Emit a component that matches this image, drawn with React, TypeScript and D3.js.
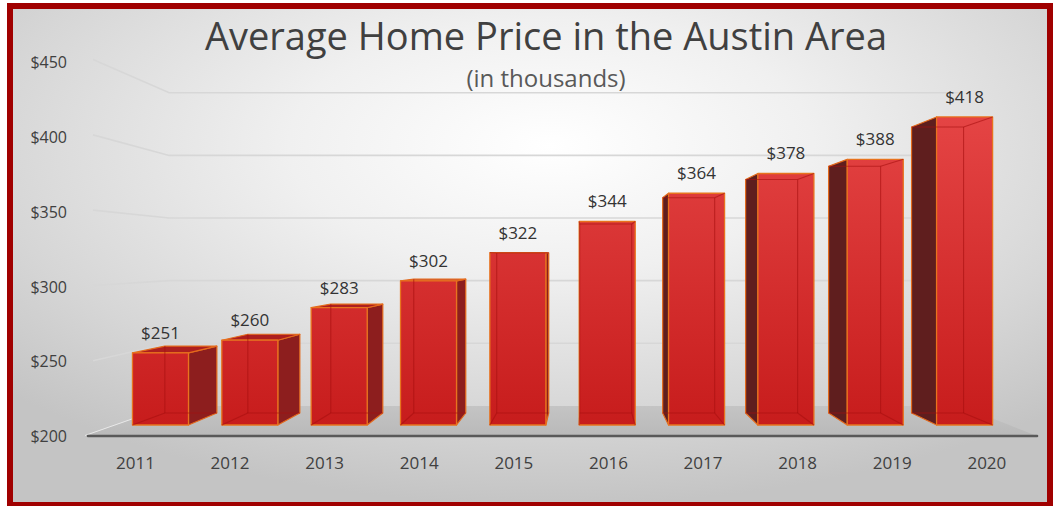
import React from 'react';
import * as d3 from 'd3';

const years = ['2011', '2012', '2013', '2014', '2015', '2016', '2017', '2018', '2019', '2020'];
const prices = [251, 260, 283, 302, 322, 344, 364, 378, 388, 418];
const yTicks = [200, 250, 300, 350, 400, 450];
const title = 'Average Home Price in the Austin Area';
const subtitle = '(in thousands)';

const W = 1053;
const H = 506;
const VX = 586;
const VY = 257;
const K_BAR_FRONT = 0.9385;
const K_BAR_BACK = 0.8715;
const K_WALL = 0.832;
const FONT = '"Open Sans", "Noto Sans", sans-serif';

type Pt = [number, number];
const proj = (x0: number, y0: number, k: number): Pt => [VX + (x0 - VX) * k, VY + (y0 - VY) * k];
const pts = (a: Pt[]) => a.map((p) => p[0].toFixed(2) + ',' + p[1].toFixed(2)).join(' ');

export default function App() {
  const x = d3.scaleBand<string>().domain(years).range([85, 1037]).paddingInner(0.373).paddingOuter(0.1865);
  const y = d3.scaleLinear().domain([200, 450]).range([436, 59.6]);
  const yLab = d3.scaleLinear().domain([200, 450]).range([436.5, 62.5]);
  const bw = x.bandwidth();
  const [x0L, x0R] = [x.range()[0], x.range()[1]];
  const floorY = y(200);

  const floor: Pt[] = [
    proj(x0L, floorY, 1),
    proj(x0R, floorY, 1),
    proj(x0R, floorY, K_WALL),
    proj(x0L, floorY, K_WALL),
  ];

  const bars = years.map((yr, i) => {
    const l = x(yr)!;
    const r = l + bw;
    const t = y(prices[i]);
    const b = floorY;
    const C: Record<string, Pt> = {
      FLT: proj(l, t, K_BAR_FRONT), FRT: proj(r, t, K_BAR_FRONT), FRB: proj(r, b, K_BAR_FRONT), FLB: proj(l, b, K_BAR_FRONT),
      BLT: proj(l, t, K_BAR_BACK), BRT: proj(r, t, K_BAR_BACK), BRB: proj(r, b, K_BAR_BACK), BLB: proj(l, b, K_BAR_BACK),
    };
    const faces: Record<string, string[]> = {
      front: ['FLT', 'FRT', 'FRB', 'FLB'],
      back: ['BLT', 'BRT', 'BRB', 'BLB'],
      left: ['FLT', 'BLT', 'BLB', 'FLB'],
      right: ['FRT', 'BRT', 'BRB', 'FRB'],
      top: ['FLT', 'FRT', 'BRT', 'BLT'],
      bottom: ['FLB', 'FRB', 'BRB', 'BLB'],
    };
    const visible: string[] = ['front'];
    let side: string | null = null;
    if (C.FRT[0] < VX - 0.5) side = 'right';
    else if (C.FLT[0] > VX + 0.5) side = 'left';
    if (side) visible.push(side);
    const topVisible = C.FLT[1] > VY;
    if (topVisible) visible.push('top');
    const edgeSet = new Map<string, [string, string]>();
    Object.values(faces).forEach((f) => {
      for (let j = 0; j < 4; j++) {
        const a = f[j], c = f[(j + 1) % 4];
        const key = [a, c].sort().join('-');
        edgeSet.set(key, [a, c]);
      }
    });
    const visEdges = new Set<string>();
    visible.forEach((fn) => {
      const f = faces[fn];
      for (let j = 0; j < 4; j++) visEdges.add([f[j], f[(j + 1) % 4]].sort().join('-'));
    });
    const hidden = [...edgeSet.entries()].filter(([k]) => !visEdges.has(k)).map(([, v]) => v);
    return { yr, i, C, faces, side, topVisible, hidden, cx: (C.FLT[0] + C.FRT[0]) / 2, ty: C.FLT[1] };
  });

  return (
    <div style={{ position: 'absolute', left: 0, top: 0 }}>
      <svg width={W} height={H} style={{ display: 'block', background: '#fff' }}>
        <defs>
          <radialGradient id="bg" cx="0.52" cy="0.28" r="0.72">
            <stop offset="0" stopColor="#ffffff" />
            <stop offset="0.35" stopColor="#f0f0f0" />
            <stop offset="0.75" stopColor="#d6d6d6" />
            <stop offset="1" stopColor="#c4c4c4" />
          </radialGradient>
          <linearGradient id="front" gradientUnits="userSpaceOnUse" x1="0" y1="110" x2="0" y2="426">
            <stop offset="0" stopColor="#e54545" />
            <stop offset="1" stopColor="#c71c1c" />
          </linearGradient>
          <linearGradient id="floorG" gradientUnits="userSpaceOnUse" x1="0" y1="406" x2="0" y2="436">
            <stop offset="0" stopColor="#c4c4c4" />
            <stop offset="1" stopColor="#b9b9b9" />
          </linearGradient>
        </defs>
        <rect x={10} y={6} width={1040} height={499} fill="url(#bg)" stroke="#a00000" strokeWidth={6} />

        {/* gridlines: left wall + back wall */}
        {yTicks.filter((v) => v > 200).map((v) => {
          const a = proj(x0L + 8, y(v), 1);
          const b = proj(x0L, y(v), K_WALL);
          const c = proj(x0R, y(v), K_WALL);
          return (
            <polyline key={v} points={pts([a, b, c])} fill="none" stroke="#d7d7d7" strokeWidth={1.6} />
          );
        })}

        {/* floor */}
        <polygon points={pts(floor)} fill="url(#floorG)" />
        <line x1={floor[0][0]} y1={floor[0][1] - 0.5} x2={floor[3][0]} y2={floor[3][1]} stroke="#f2f2f2" strokeWidth={1} opacity={0.8} />
        <line x1={88} y1={floorY} x2={x0R} y2={floorY} stroke="#595959" strokeWidth={2.6} strokeLinecap="round" />

        {/* bars */}
        {bars.map((bar) => (
          <g key={bar.yr}>
            {bar.side && (
              <polygon
                points={pts(bar.faces[bar.side].map((k) => bar.C[k]))}
                fill={bar.side === 'right' ? '#8d1e1e' : '#5f1e1e'}
                stroke="#e46a1c"
                strokeWidth={1.2}
                strokeLinejoin="round"
              />
            )}
            {bar.topVisible && (
              <polygon
                points={pts(bar.faces.top.map((k) => bar.C[k]))}
                fill="#ad1f1f"
                stroke="#e46a1c"
                strokeWidth={1.2}
                strokeLinejoin="round"
              />
            )}
            <polygon
              points={pts(bar.faces.front.map((k) => bar.C[k]))}
              fill="url(#front)"
              stroke="#e8731e"
              strokeWidth={1.3}
              strokeLinejoin="round"
            />
            {bar.hidden.map(([a, c]) => (
              <line
                key={a + c}
                x1={bar.C[a][0]}
                y1={bar.C[a][1]}
                x2={bar.C[c][0]}
                y2={bar.C[c][1]}
                stroke="#a81010"
                strokeWidth={1.1}
                opacity={0.6}
              />
            ))}
            <text
              x={bar.cx}
              y={bar.ty - 20}
              dy="0.35em"
              textAnchor="middle"
              fontFamily={FONT}
              fontSize={17}
              fill="#333333"
            >
              {'$' + prices[bar.i]}
            </text>
          </g>
        ))}

        {/* y axis labels */}
        {yTicks.map((v) => (
          <text key={v} x={67} y={yLab(v)} dy="0.35em" textAnchor="end" fontFamily={FONT} fontSize={16} fill="#404040">
            {'$' + v}
          </text>
        ))}

        {/* x axis labels */}
        {years.map((yr) => (
          <text
            key={yr}
            x={proj(x(yr)! + bw / 2, 0, 0.9937)[0]}
            y={469}
            textAnchor="middle"
            fontFamily={FONT}
            fontSize={17}
            fill="#404040"
          >
            {yr}
          </text>
        ))}

        <text x={546} y={50} textAnchor="middle" fontFamily={FONT} fontSize={38} fill="#404040">
          {title}
        </text>
        <text x={546} y={87} textAnchor="middle" fontFamily={FONT} fontSize={24} fill="#595959">
          {subtitle}
        </text>
      </svg>
    </div>
  );
}
